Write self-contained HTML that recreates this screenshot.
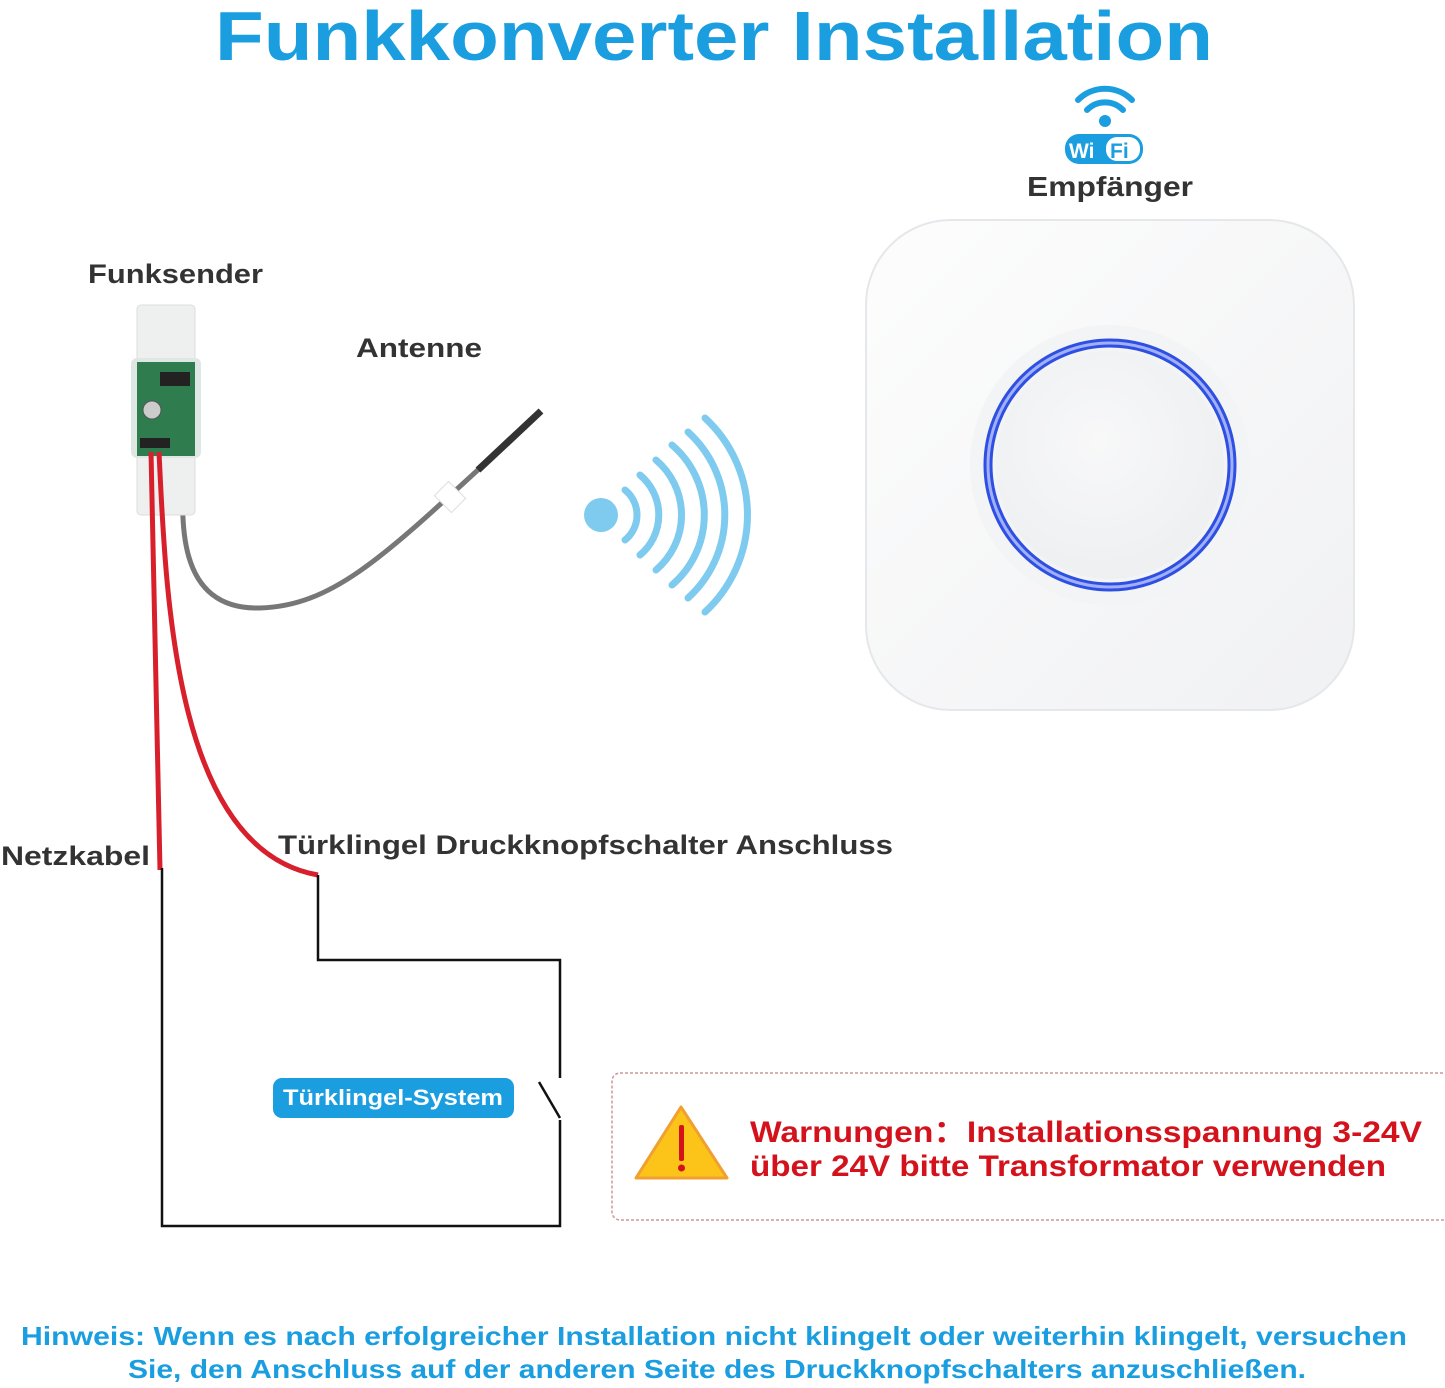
<!DOCTYPE html>
<html><head><meta charset="utf-8"><style>
html,body{margin:0;padding:0;background:#fff;}
svg{display:block;}
text{font-family:"Liberation Sans",sans-serif;font-weight:bold;}
</style></head><body>
<svg width="1445" height="1388" viewBox="0 0 1445 1388" xmlns="http://www.w3.org/2000/svg">
<defs>
<linearGradient id="box" x1="0" y1="0" x2="1" y2="1">
<stop offset="0" stop-color="#fdfdfd"/><stop offset="1" stop-color="#f0f1f3"/>
</linearGradient>
<radialGradient id="btn" cx="0.45" cy="0.4" r="0.7">
<stop offset="0" stop-color="#f8f8f9"/><stop offset="1" stop-color="#eceef0"/>
</radialGradient>
</defs>
<text x="714" y="60" text-anchor="middle" font-size="70" fill="#1a9ee0" textLength="998" lengthAdjust="spacingAndGlyphs">Funkkonverter Installation</text>

<g fill="none" stroke="#1a9ee0" stroke-width="6" stroke-linecap="round">
<path d="M1078 100 A38 38 0 0 1 1132 100"/>
<path d="M1087 110 A25 25 0 0 1 1123 110"/>
</g>
<circle cx="1105" cy="121" r="6" fill="#1a9ee0"/>
<rect x="1065" y="134" width="78" height="30" rx="14" fill="#1a9ee0"/>
<rect x="1106" y="137" width="34" height="24" rx="11" fill="#fff"/>
<text x="1069" y="158" font-size="21" fill="#fff">Wi</text>
<text x="1110" y="158" font-size="21" fill="#1a9ee0">Fi</text>
<text x="1110" y="196" text-anchor="middle" font-size="28" fill="#333" textLength="166" lengthAdjust="spacingAndGlyphs">Empfänger</text>

<rect x="866" y="220" width="488" height="490" rx="85" fill="url(#box)" stroke="#e6e7ea" stroke-width="2"/>
<circle cx="1110" cy="465" r="140" fill="#f3f4f6"/>
<circle cx="1110" cy="465" r="122" fill="none" stroke="#2f4fe0" stroke-width="9"/>
<circle cx="1110" cy="465" r="122" fill="none" stroke="#9fb0ff" stroke-width="3"/>
<circle cx="1110" cy="465" r="114" fill="url(#btn)"/>

<circle cx="601" cy="515" r="17" fill="#7ecbef"/>
<g fill="none" stroke="#7ecbef" stroke-width="7" stroke-linecap="round">
<path d="M625 490 A32 32 0 0 1 625 540"/>
<path d="M640 475 A52 52 0 0 1 640 555"/>
<path d="M656 460 A72 72 0 0 1 656 570"/>
<path d="M672 445 A92 92 0 0 1 672 585"/>
<path d="M688 432 A112 112 0 0 1 688 598"/>
<path d="M705 418 A132 132 0 0 1 705 612"/>
</g>

<text x="88" y="283" font-size="27" fill="#333" textLength="175" lengthAdjust="spacingAndGlyphs">Funksender</text>
<text x="356" y="357" font-size="27" fill="#333" textLength="126" lengthAdjust="spacingAndGlyphs">Antenne</text>
<text x="1" y="865" font-size="27" fill="#333" textLength="149" lengthAdjust="spacingAndGlyphs">Netzkabel</text>
<text x="278" y="854" font-size="27" fill="#333" textLength="615" lengthAdjust="spacingAndGlyphs">Türklingel Druckknopfschalter Anschluss</text>

<path d="M185 455 C180 520 175 610 260 608 C330 606 380 560 480 468" fill="none" stroke="#777" stroke-width="5"/>
<path d="M478 470 L541 411" stroke="#333" stroke-width="7"/>
<rect x="440" y="485" width="20" height="24" fill="#fff" stroke="#ddd" transform="rotate(-45 450 497)"/>

<rect x="137" y="305" width="58" height="210" rx="4" fill="#eef0f0" stroke="#ddd"/>
<rect x="131" y="358" width="70" height="100" rx="6" fill="#dfe7e4"/>
<rect x="137" y="362" width="58" height="94" fill="#2f7d4e"/>
<circle cx="152" cy="410" r="9" fill="#ccc" stroke="#555"/>
<rect x="160" y="372" width="30" height="14" fill="#222"/>
<rect x="140" y="438" width="30" height="10" fill="#222"/>

<g fill="none" stroke="#d8202c" stroke-width="5">
<path d="M151 452 L160 870"/>
<path d="M159 452 C166 600 175 850 318 875"/>
</g>

<g fill="none" stroke="#111" stroke-width="2.5">
<path d="M162 868 L162 1226 L560 1226 L560 1120"/>
<path d="M560 1118 L539 1082"/>
<path d="M560 1078 L560 960 L318 960 L318 875"/>
</g>

<rect x="273" y="1078" width="241" height="40" rx="9" fill="#1a9ee0"/>
<text x="393" y="1105" text-anchor="middle" font-size="22" fill="#fff" textLength="220" lengthAdjust="spacingAndGlyphs">Türklingel-System</text>

<rect x="612" y="1073" width="845" height="147" rx="8" fill="#fff" stroke="#c99" stroke-width="1.5" stroke-dasharray="3,2"/>
<path d="M681 1107 L727 1178 L636 1178 Z" fill="#fcc419" stroke="#f0a030" stroke-width="3" stroke-linejoin="round"/>
<rect x="679" y="1125" width="5" height="36" rx="2" fill="#d4121c"/>
<circle cx="681.5" cy="1168" r="3.5" fill="#d4121c"/>
<text x="750" y="1142" font-size="30" fill="#d4121c" textLength="672" lengthAdjust="spacingAndGlyphs">Warnungen：Installationsspannung 3-24V</text>
<text x="750" y="1176" font-size="30" fill="#d4121c" textLength="636" lengthAdjust="spacingAndGlyphs">über 24V bitte Transformator verwenden</text>

<text x="714" y="1345" text-anchor="middle" font-size="26" fill="#1a9ee0" textLength="1386" lengthAdjust="spacingAndGlyphs">Hinweis: Wenn es nach erfolgreicher Installation nicht klingelt oder weiterhin klingelt, versuchen</text>
<text x="717" y="1378" text-anchor="middle" font-size="26" fill="#1a9ee0" textLength="1178" lengthAdjust="spacingAndGlyphs">Sie, den Anschluss auf der anderen Seite des Druckknopfschalters anzuschließen.</text>
</svg>
</body></html>
